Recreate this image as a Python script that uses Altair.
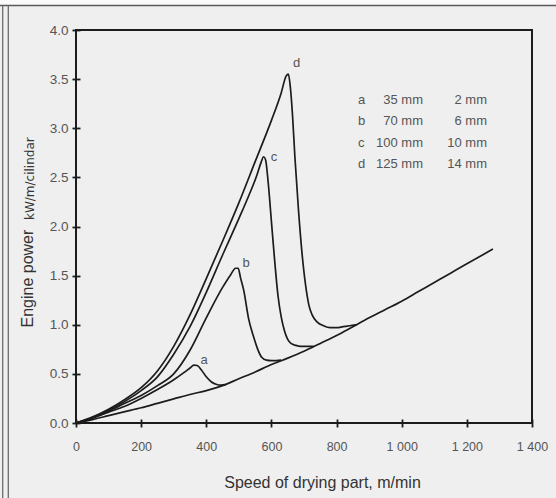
import altair as alt
import pandas as pd

# ---- data ----
base_x = [0, 50, 100, 150, 200, 250, 300, 350, 400, 450, 500, 550, 600, 650, 700,
          750, 800, 850, 900, 950, 1000, 1050, 1100, 1150, 1200, 1280]
base_y = [0, 0.035, 0.075, 0.115, 0.155, 0.20, 0.245, 0.29, 0.33, 0.38, 0.45, 0.52,
          0.595, 0.66, 0.73, 0.81, 0.89, 0.98, 1.07, 1.155, 1.24, 1.335, 1.43, 1.525,
          1.62, 1.77]

a_x = [0, 50, 100, 150, 200, 250, 300, 330, 350, 362, 372, 385, 400, 415, 430, 445, 460]
a_y = [0, 0.05, 0.11, 0.17, 0.25, 0.34, 0.44, 0.51, 0.56, 0.59, 0.585, 0.54, 0.47,
       0.42, 0.395, 0.385, 0.39]

b_x = [0, 50, 100, 150, 200, 250, 300, 350, 400, 450, 475, 490, 498, 505, 515, 530,
       545, 558, 570, 585, 600, 615, 630]
b_y = [0, 0.05, 0.12, 0.20, 0.28, 0.38, 0.50, 0.74, 1.07, 1.38, 1.51, 1.575, 1.575,
       1.48, 1.35, 1.06, 0.88, 0.75, 0.67, 0.64, 0.635, 0.635, 0.64]

c_x = [0, 50, 100, 150, 200, 250, 300, 350, 400, 450, 500, 530, 555, 568, 576, 582,
       590, 600, 610, 620, 630, 640, 650, 660, 675, 690, 710, 730]
c_y = [0, 0.055, 0.13, 0.22, 0.33, 0.47, 0.70, 0.98, 1.33, 1.71, 2.08, 2.31, 2.52,
       2.65, 2.71, 2.68, 2.45, 2.05, 1.65, 1.30, 1.08, 0.94, 0.85, 0.81, 0.79, 0.78,
       0.78, 0.78]

d_x = [0, 50, 100, 150, 200, 250, 300, 350, 400, 450, 500, 550, 600, 630, 645, 652,
       658, 665, 672, 683, 693, 705, 715, 725, 740, 760, 780, 800, 820, 840, 862]
d_y = [0, 0.06, 0.14, 0.24, 0.36, 0.53, 0.78, 1.10, 1.47, 1.85, 2.24, 2.66, 3.08,
       3.36, 3.53, 3.55, 3.42, 3.12, 2.71, 2.17, 1.76, 1.40, 1.20, 1.10, 1.03, 0.99,
       0.97, 0.97, 0.98, 0.99, 1.00]

label_text = ["a", "b", "c", "d"]
label_x = [393, 522, 608, 677]
label_y = [0.64, 1.63, 2.71, 3.66]

legend_letters = ["a", "b", "c", "d"]
legend_col1 = ["35 mm", "70 mm", "100 mm", "125 mm"]
legend_col2 = ["2 mm", "6 mm", "10 mm", "14 mm"]

x_ticks = [0, 200, 400, 600, 800, 1000, 1200, 1400]
y_ticks = [0.0, 0.5, 1.0, 1.5, 2.0, 2.5, 3.0, 3.5, 4.0]

FONT = "Liberation Sans"
INK = "#1c1c1c"
GREY = "#555555"

rows = []
for name, xs, ys in [("base", base_x, base_y), ("a", a_x, a_y), ("b", b_x, b_y),
                     ("c", c_x, c_y), ("d", d_x, d_y)]:
    for i, (x, y) in enumerate(zip(xs, ys)):
        rows.append({"curve": name, "speed": x, "power": y, "order": i})
df = pd.DataFrame(rows)

x_enc = alt.X(
    "speed:Q",
    scale=alt.Scale(domain=[0, 1400], nice=False),
    axis=alt.Axis(
        values=x_ticks, grid=False, domain=False, offset=-4, tickSize=8,
        tickColor=INK, tickWidth=1.8, labelPadding=13, labelFontSize=12.5,
        labelColor=GREY, labelFont=FONT, labelFlush=False, labelOverlap=False,
        labelExpr="replace(format(datum.value, ','), ',', ' ')",
        title="Speed of drying part, m/min", titleFont=FONT, titleFontSize=16,
        titleFontWeight="normal", titleColor="#333333", titleX=246, titleY=68,
        titleBaseline="alphabetic", titleAlign="center",
    ),
)
y_enc = alt.Y(
    "power:Q",
    scale=alt.Scale(domain=[0, 4], nice=False),
    axis=alt.Axis(
        values=y_ticks, format=".1f", grid=False, domain=False, offset=-4,
        tickSize=8, tickColor=INK, tickWidth=1.8, labelPadding=4,
        labelFontSize=13.5, labelColor=GREY, labelFont=FONT, labelFlush=False,
        labelOverlap=False,
        title="Engine power", titleFont=FONT, titleFontSize=16,
        titleFontWeight="normal", titleColor="#333333", titleAngle=270,
        titleX=-47.5, titleY=297, titleAlign="left", titleBaseline="alphabetic",
    ),
)

lines = alt.Chart(df).mark_line(
    color=INK, strokeWidth=1.7, interpolate="monotone"
).encode(x=x_enc, y=y_enc, detail="curve:N", order="order:Q")

lab_df = pd.DataFrame({"t": label_text, "speed": label_x, "power": label_y})
labels = alt.Chart(lab_df).mark_text(
    font=FONT, fontSize=13
).encode(x="speed:Q", y="power:Q", text="t:N", color=alt.value(GREY))

leg_df = pd.DataFrame({
    "c0": ["\n".join(legend_letters)],
    "c1": ["\n".join(legend_col1)],
    "c2": ["\n".join(legend_col2)],
})
leg_common = dict(font=FONT, fontSize=13, lineBreak="\n",
                  lineHeight=21.4, baseline="top")
leg0 = alt.Chart(leg_df).mark_text(align="left", **leg_common).encode(
    x=alt.value(282), y=alt.value(64), text="c0:N", color=alt.value(GREY))
leg1 = alt.Chart(leg_df).mark_text(align="right", **leg_common).encode(
    x=alt.value(347), y=alt.value(64), text="c1:N", color=alt.value(GREY))
leg2 = alt.Chart(leg_df).mark_text(align="right", **leg_common).encode(
    x=alt.value(411), y=alt.value(64), text="c2:N", color=alt.value(GREY))

unit_df = pd.DataFrame({"u": ["kW/m/cilindar"]})
unit = alt.Chart(unit_df).mark_text(
    font="DejaVu Sans", fontSize=12, angle=270,
    align="left", baseline="alphabetic"
).encode(x=alt.value(-42), y=alt.value(190), text="u:N",
         color=alt.value("#333333"))

# decorative outer frame of the picture
frame_df = pd.DataFrame({"k": [0]})
top_band = alt.Chart(frame_df).mark_rect(color="#fafafa").encode(
    x=alt.value(-76), x2=alt.value(480), y=alt.value(-30), y2=alt.value(-24.5))
top_line = alt.Chart(frame_df).mark_rule(color="#5a5a5a", strokeWidth=1.5).encode(
    x=alt.value(-76), x2=alt.value(480), y=alt.value(-24.5))
left1 = alt.Chart(frame_df).mark_rule(color="#6a6a6a", strokeWidth=1.3).encode(
    x=alt.value(-73.3), y=alt.value(-24.5), y2=alt.value(470))
left2 = alt.Chart(frame_df).mark_rule(color="#6a6a6a", strokeWidth=1.3).encode(
    x=alt.value(-67.7), y=alt.value(-24.5), y2=alt.value(470))

chart = alt.layer(
    top_band, top_line, left1, left2, lines, labels, leg0, leg1, leg2, unit
).properties(
    width=456, height=393,
    padding={"left": 76, "top": 30, "right": 24, "bottom": 75},
    autosize=alt.AutoSizeParams(type="none"),
    background="#efefef",
).configure_view(stroke=INK, strokeWidth=2)

chart.save("out.html", embed_options={"renderer": "svg", "actions": False})
